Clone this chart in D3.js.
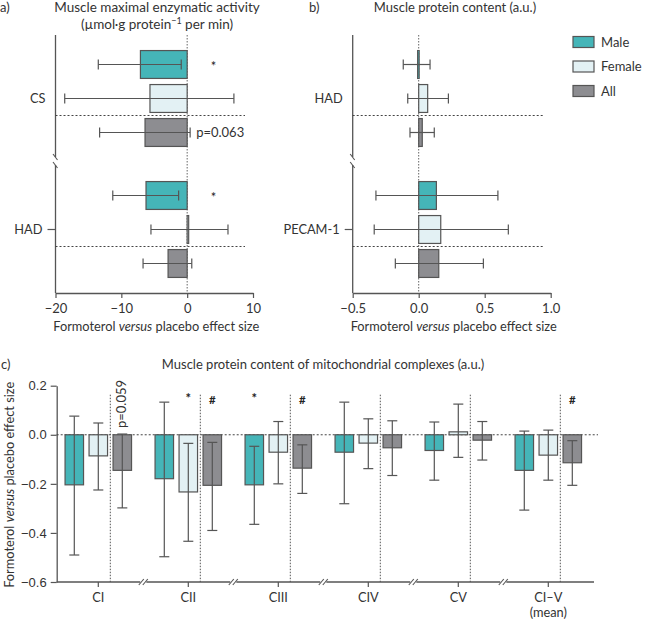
<!DOCTYPE html>
<html><head><meta charset="utf-8">
<script src="https://cdn.jsdelivr.net/npm/d3@7"></script>
<style>
body{margin:0;background:#fff;}
svg{font-family:Lato,"Noto Sans",sans-serif;}
</style></head>
<body><svg id="c" width="646" height="621"></svg>
<script>
// ---------- data ----------
const groups = ["Male", "Female", "All"];
const groupColors = ["#45b5b8", "#e3f1f4", "#8d8d91"];

const aCategories = ["CS", "HAD"];
const aMean = [[-7.1, -5.65, -6.4], [-6.25, 0.2, -2.9]];
const aLow  = [[-13.5, -18.6, -13.3], [-11.3, -5.5, -6.7]];
const aHigh = [[-0.9, 7.1, 0.45], [-1.3, 6.2, 0.7]];
const aNotes = [["*", "", "p=0.063"], ["*", "", ""]];
const aTicks = [-20, -10, 0, 10];

const bCategories = ["HAD", "PECAM-1"];
const bMean = [[-0.008, 0.068, 0.027], [0.134, 0.167, 0.152]];
const bLow  = [[-0.117, -0.083, -0.066], [-0.324, -0.337, -0.177]];
const bHigh = [[0.086, 0.225, 0.118], [0.60, 0.679, 0.49]];
const bTicks = [-0.5, 0, 0.5, 1.0];

const cCategories = ["CI", "CII", "CIII", "CIV", "CV", "CI–V|(mean)"];
const cMean = [[-0.204, -0.086, -0.145], [-0.179, -0.233, -0.206], [-0.204, -0.071, -0.136],
               [-0.071, -0.034, -0.053], [-0.064, 0.012, -0.022], [-0.145, -0.083, -0.114]];
const cLow  = [[-0.49, -0.225, -0.298], [-0.497, -0.434, -0.39], [-0.365, -0.2, -0.239],
               [-0.281, -0.138, -0.166], [-0.185, -0.092, -0.103], [-0.307, -0.185, -0.206]];
const cHigh = [[0.076, 0.048, 0.003], [0.133, -0.035, -0.031], [-0.047, 0.054, -0.041],
               [0.133, 0.065, 0.057], [0.052, 0.125, 0.054], [0.015, 0.019, -0.024]];
const cNotes = [["", "", "p=0.059"], ["", "*", "#"], ["*", "", "#"], ["", "", ""], ["", "", ""], ["", "", "#"]];
const cTicks = [0.2, 0.0, -0.2, -0.4, -0.6];

// ---------- drawing ----------
const svg = d3.select("#c");
const AX = "#555", TXT = "#333", ERR = "#555";
const fmt1 = d3.format(".1f");

function title(x, y, lines, letter, lx, size) {
  const t = svg.append("text").attr("x", x).attr("y", y).attr("text-anchor", "middle")
    .attr("font-size", size || 13).attr("fill", TXT);
  lines.forEach((l, i) => {
    const ts = t.append("tspan").attr("x", x).attr("dy", i ? 17 : 0);
    if (typeof l === "string") ts.text(l); else l(ts);
  });
  svg.append("text").attr("x", lx).attr("y", y).attr("font-size", 13).attr("fill", TXT).text(letter);
}

function xLabel(g, x, y, rotate) {
  const t = g.append("text").attr("text-anchor", "middle").attr("font-size", 12.8).attr("fill", TXT)
    .attr("transform", rotate ? `translate(${x},${y}) rotate(-90)` : `translate(${x},${y})`);
  t.append("tspan").text("Formoterol ");
  t.append("tspan").attr("font-style", "italic").text("versus");
  t.append("tspan").text(" placebo effect size");
}

function horizPanel(cfg) {
  const g = svg.append("g");
  const x = d3.scaleLinear().domain(cfg.domain).range(cfg.xr);
  const y = d3.scaleBand().domain(cfg.cats).range([33, 295]);
  const yi = d3.scaleBand().domain(groups).range([-51, 51]).paddingInner(0.18).paddingOuter(0.09);
  const top = 35, bot = 293, x0 = cfg.xr[0];
  const brk = (y(cfg.cats[1]) + y(cfg.cats[0]) + y.bandwidth()) / 2 - 3;

  // y axis with break
  g.append("line").attr("x1", x0).attr("x2", x0).attr("y1", top).attr("y2", brk - 4).attr("stroke", AX).attr("stroke-width", 1.3);
  g.append("line").attr("x1", x0).attr("x2", x0).attr("y1", brk + 4).attr("y2", bot).attr("stroke", AX).attr("stroke-width", 1.3);
  [brk - 4, brk + 4].forEach(v => g.append("line").attr("x1", x0 - 2.5).attr("x2", x0 + 2).attr("y1", v - 3).attr("y2", v + 3)
    .attr("stroke", AX).attr("stroke-width", 1.1));

  // x axis
  const ax = g.append("g").attr("transform", `translate(0,${bot})`)
    .call(d3.axisBottom(x).tickValues(cfg.ticks).tickFormat(cfg.fmt).tickSize(5).tickSizeOuter(0));
  ax.select(".domain").attr("stroke", AX).attr("stroke-width", 1.3);
  ax.selectAll(".tick line").attr("stroke", AX).attr("stroke-width", 1.2);
  ax.selectAll("text").attr("font-size", 13).attr("fill", TXT).attr("font-family", "Lato").attr("dy", "0.9em");

  // zero line
  g.append("line").attr("x1", x(0)).attr("x2", x(0)).attr("y1", top).attr("y2", bot)
    .attr("stroke", "#666").attr("stroke-dasharray", "1.5,1.5").attr("stroke-width", 1);

  cfg.cats.forEach((c, ci) => {
    const cy = y(c) + y.bandwidth() / 2;
    g.append("text").attr("x", x0 - (ci === 1 ? 13 : 10)).attr("y", cy).attr("dy", "0.35em")
      .attr("text-anchor", "end").attr("font-size", 12.8).attr("fill", TXT).text(c);
    if (ci === 1) g.append("line").attr("x1", x0 - 8).attr("x2", x0).attr("y1", cy).attr("y2", cy).attr("stroke", AX).attr("stroke-width", 1.2);
    const sy = cy + yi("Female") + yi.bandwidth() + (yi.step() - yi.bandwidth()) / 2;
    g.append("line").attr("x1", x0).attr("x2", cfg.sepEnd).attr("y1", sy).attr("y2", sy)
      .attr("stroke", "#444").attr("stroke-dasharray", "2,2").attr("stroke-width", 1);
    groups.forEach((gr, gi) => {
      const by = cy + yi(gr);
      const m = cfg.mean[ci][gi];
      g.append("rect").attr("x", Math.min(x(0), x(m))).attr("y", by)
        .attr("width", Math.max(1.5, Math.abs(x(m) - x(0)))).attr("height", yi.bandwidth())
        .attr("fill", groupColors[gi]).attr("stroke", "#555").attr("stroke-width", 1.2);
      const ey = by + yi.bandwidth() / 2;
      const lo = x(cfg.low[ci][gi]), hi = x(cfg.high[ci][gi]);
      g.append("line").attr("x1", lo).attr("x2", hi).attr("y1", ey).attr("y2", ey).attr("stroke", ERR).attr("stroke-width", 1.2);
      [lo, hi].forEach(v => g.append("line").attr("x1", v).attr("x2", v).attr("y1", ey - 5).attr("y2", ey + 5).attr("stroke", ERR).attr("stroke-width", 1.2));
      const note = cfg.notes ? cfg.notes[ci][gi] : "";
      if (note === "*") g.append("text").attr("x", x(4)).attr("y", ey + 6).attr("text-anchor", "middle").attr("font-size", 13).attr("fill", "#222").text("*");
      else if (note) g.append("text").attr("x", hi + 6).attr("y", ey).attr("dy", "0.35em").attr("font-size", 13).attr("fill", TXT).text(note);
    });
  });
  xLabel(g, (cfg.xr[0] + cfg.xr[1]) / 2 + 2, 331, false);
}

// Panel a
title(157, 12, ["Muscle maximal enzymatic activity", ts => {
  ts.text("(µmol·g protein");
  ts.append("tspan").attr("font-size", 9).attr("dy", -5).text("−1");
  ts.append("tspan").attr("dy", 5).text(" per min)");
}], "a)", 0, 13.5);
horizPanel({ cats: aCategories, domain: [-20, 10], xr: [55.5, 253], ticks: aTicks, fmt: d3.format("d"),
  mean: aMean, low: aLow, high: aHigh, notes: aNotes, sepEnd: 245 });

// Panel b
title(455, 12, ["Muscle protein content (a.u.)"], "b)", 309, 13);
horizPanel({ cats: bCategories, domain: [-0.5, 1.0], xr: [352.7, 550.7], ticks: bTicks, fmt: fmt1,
  mean: bMean, low: bLow, high: bHigh, notes: null, sepEnd: 544 });

// Legend
const leg = svg.append("g");
groups.forEach((gr, i) => {
  const ly = 42 + i * 24.5;
  leg.append("rect").attr("x", 573).attr("y", ly - 5.5).attr("width", 21).attr("height", 11)
    .attr("fill", groupColors[i]).attr("stroke", "#555").attr("stroke-width", 1.2);
  leg.append("text").attr("x", 601).attr("y", ly).attr("dy", "0.35em").attr("font-size", 13).attr("fill", TXT).text(gr);
});

// Panel c
title(323, 369, ["Muscle protein content of mitochondrial complexes (a.u.)"], "c)", 1, 13);
{
  const g = svg.append("g");
  const y = d3.scaleLinear().domain([-0.6, 0.2]).range([582, 385.7]);
  const x = d3.scaleBand().domain(cCategories).range([53.3, 593.3]);
  const xi = d3.scaleBand().domain(groups).range([-36, 36]).paddingInner(0.23).paddingOuter(0.115);
  const xl = 56.7, xr = 594;

  const ay = g.append("g").attr("transform", `translate(${xl},0)`)
    .call(d3.axisLeft(y).tickValues(cTicks).tickFormat(fmt1).tickSize(6).tickSizeOuter(0));
  ay.select(".domain").attr("stroke", AX).attr("stroke-width", 1.3);
  ay.selectAll(".tick line").attr("stroke", AX).attr("stroke-width", 1.2);
  ay.selectAll("text").attr("font-size", 13).attr("fill", TXT).attr("dx", "-1");

  // x axis line with breaks
  const bx = cCategories.slice(0, 5).map(c => x(c) + x.step());
  let segs = [xl, ...bx.flatMap(b => [b - 3, b + 3]), xr];
  for (let i = 0; i < segs.length; i += 2)
    g.append("line").attr("x1", segs[i]).attr("x2", segs[i + 1]).attr("y1", y(-0.6)).attr("y2", y(-0.6)).attr("stroke", AX).attr("stroke-width", 1.3);
  bx.forEach(b => [-2, 2].forEach(d => g.append("line").attr("x1", b + d - 2.5).attr("x2", b + d + 2.5)
    .attr("y1", y(-0.6) + 3).attr("y2", y(-0.6) - 3).attr("stroke", AX).attr("stroke-width", 1.1)));

  cCategories.forEach((c, ci) => {
    const cx = x(c) + x.bandwidth() / 2;
    g.append("line").attr("x1", cx).attr("x2", cx).attr("y1", y(-0.6)).attr("y2", y(-0.6) + 5).attr("stroke", AX).attr("stroke-width", 1.2);
    const lbl = g.append("text").attr("text-anchor", "middle").attr("font-size", 12.8).attr("fill", TXT);
    c.split("|").forEach((p, k) => lbl.append("tspan").attr("x", cx).attr("y", y(-0.6) + 20 + k * 15).text(p));
    const sx = cx + xi("Female") + xi.bandwidth() + (xi.step() - xi.bandwidth()) / 2;
    g.append("line").attr("x1", sx).attr("x2", sx).attr("y1", y(0.2) + 9).attr("y2", y(-0.6))
      .attr("stroke", "#555").attr("stroke-dasharray", "1.5,1.5").attr("stroke-width", 1);
  });

  // zero line
  g.append("line").attr("x1", xl).attr("x2", 598).attr("y1", y(0)).attr("y2", y(0))
    .attr("stroke", "#444").attr("stroke-dasharray", "2,2").attr("stroke-width", 1);

  cCategories.forEach((c, ci) => {
    const cx = x(c) + x.bandwidth() / 2;
    groups.forEach((gr, gi) => {
      const bx0 = cx + xi(gr);
      const m = cMean[ci][gi];
      g.append("rect").attr("x", bx0).attr("y", Math.min(y(0), y(m))).attr("width", xi.bandwidth())
        .attr("height", Math.max(1.5, Math.abs(y(m) - y(0))))
        .attr("fill", groupColors[gi]).attr("stroke", "#555").attr("stroke-width", 1.2);
      const ex = bx0 + xi.bandwidth() / 2;
      const lo = y(cLow[ci][gi]), hi = y(cHigh[ci][gi]);
      g.append("line").attr("x1", ex).attr("x2", ex).attr("y1", lo).attr("y2", hi).attr("stroke", ERR).attr("stroke-width", 1.2);
      [lo, hi].forEach(v => g.append("line").attr("x1", ex - 5).attr("x2", ex + 5).attr("y1", v).attr("y2", v).attr("stroke", ERR).attr("stroke-width", 1.2));
      const note = cNotes[ci][gi];
      if (note === "*" || note === "#")
        g.append("text").attr("x", ex).attr("y", y(0.2) + (note === "*" ? 17 : 18)).attr("text-anchor", "middle")
          .attr("font-size", note === "*" ? 13 : 11.5).attr("font-weight", "bold").attr("fill", "#222").text(note);
      else if (note)
        g.append("text").attr("transform", `translate(${ex + 4},${hi - 6}) rotate(-90)`).attr("font-size", 13).attr("fill", TXT).text(note);
    });
  });
  xLabel(g, 14, (y(0.2) + y(-0.6)) / 2 + 1, true);
}
</script></body></html>
